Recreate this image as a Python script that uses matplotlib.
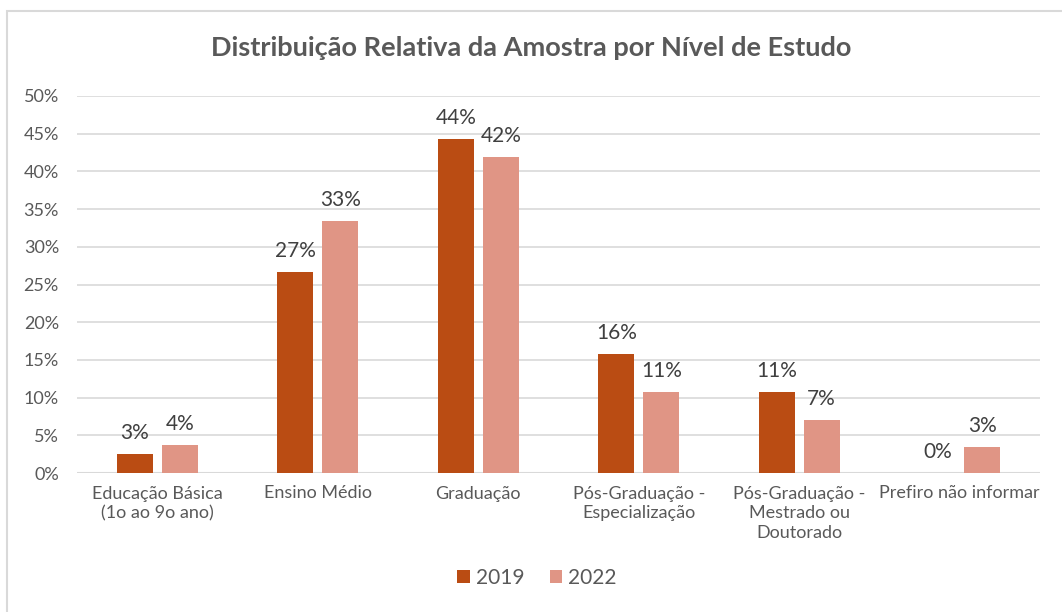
import numpy as np
import matplotlib.pyplot as plt
from matplotlib.patches import Rectangle

plt.rcParams["font.family"] = ["Lato", "DejaVu Sans"]

categories = ["Educação Básica\n(1o ao 9o ano)", "Ensino Médio", "Graduação",
              "Pós-Graduação -\nEspecialização", "Pós-Graduação -\nMestrado ou\nDoutorado",
              "Prefiro não informar"]
v2019 = [2.5, 26.7, 44.3, 15.8, 10.7, 0.0]
v2022 = [3.7, 33.4, 41.9, 10.7, 7.0, 3.4]
lbl2019 = ["3%", "27%", "44%", "16%", "11%", "0%"]
lbl2022 = ["4%", "33%", "42%", "11%", "7%", "3%"]

C2019 = "#BA4C13"
C2022 = "#E09585"

W, H = 1062, 612
fig = plt.figure(figsize=(W / 100, H / 100), dpi=100)
ax = fig.add_axes([77 / W, 1 - 473 / H, (1040 - 77) / W, (473 - 96) / H])

x = np.arange(len(categories))
off = 0.14
bw = 0.225
b1 = ax.bar(x - off, v2019, bw, color=C2019, label="2019", zorder=3)
b2 = ax.bar(x + off, v2022, bw, color=C2022, label="2022", zorder=3)

for bars, labels in ((b1, lbl2019), (b2, lbl2022)):
    for b, t in zip(bars, labels):
        ax.annotate(t, (b.get_x() + b.get_width() / 2, b.get_height()),
                    xytext=(0, 8), textcoords="offset points",
                    ha="center", va="bottom", fontsize=15, color="#404040")

ax.set_xlim(-0.5, len(categories) - 0.5)
ax.set_ylim(0, 50)
ax.set_yticks(np.arange(0, 51, 5))
ax.set_yticklabels([f"{v}%" for v in range(0, 51, 5)])
ax.set_xticks(x)
ax.set_xticklabels(categories, linespacing=1.3)
ax.tick_params(axis="both", length=0, labelsize=13, labelcolor="#595959")
ax.tick_params(axis="x", pad=9)
ax.tick_params(axis="y", pad=13)
ax.grid(axis="y", color="#D9D9D9", linewidth=1.2, zorder=0)
for s in ax.spines.values():
    s.set_visible(False)
ax.axhline(0, color="#D9D9D9", linewidth=1.5, zorder=2)

fig.text(0.5, 1 - 48 / H, "Distribuição Relativa da Amostra por Nível de Estudo",
         ha="center", va="center", fontsize=19.5, fontweight="bold", color="#595959")

fig.legend(handles=[b1, b2], labels=["2019", "2022"], loc="center",
           bbox_to_anchor=(537 / W, 1 - 578 / H), ncol=2, frameon=False,
           fontsize=15, labelcolor="#595959", handlelength=0.6, handleheight=0.6,
           handletextpad=0.3, columnspacing=1.2)

fig.patches.append(Rectangle((7 / W, -0.1), 1.2, 1 - 11 / H + 0.1, transform=fig.transFigure,
                             fill=False, edgecolor="#D9D9D9", linewidth=1.5))

fig.savefig("out.png", dpi=100)
